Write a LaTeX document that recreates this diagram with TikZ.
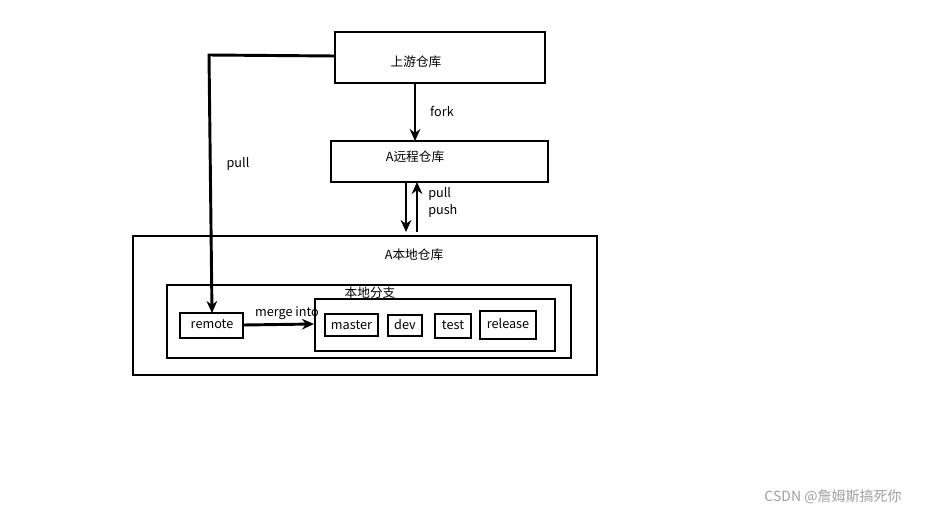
\documentclass[tikz,border=0pt]{standalone}
\usepackage{fontspec}
\setmainfont{Noto Sans CJK SC}
\usetikzlibrary{arrows.meta}
\begin{document}
\begin{tikzpicture}[x=0.75pt,y=-0.75pt,
  box/.style={draw,line width=1.4pt},
  lbl/.style={font=\fontsize{9.5}{10}\selectfont,inner sep=0pt},
  arr/.style={line width=2.2pt,-{Stealth[length=9pt,width=8pt]}}]
\useasboundingbox (0,0) rectangle (950,518);
\draw[box] (335,32) rectangle (545,83);
\node[lbl] (up) at (416,62) {上游仓库};
\draw[box] (331,141) rectangle (548,182);
\node[lbl] (ar) at (415,157) {A远程仓库};
\draw[box] (133,236) rectangle (597,375);
\node[lbl] (al) at (414,255) {A本地仓库};
\draw[box] (167,285) rectangle (571,358);
\node[lbl] (bd) at (370,293) {本地分支};
\draw[box] (315,299) rectangle (555,351);
\draw[box] (325,314) rectangle (378,336); \node[lbl] (m) at (351.5,325) {master};
\draw[box] (388,315) rectangle (422,336); \node[lbl] (d) at (405,325) {dev};
\draw[box] (435,314) rectangle (471,338); \node[lbl] (t) at (453,325) {test};
\draw[box] (480,311) rectangle (536,339); \node[lbl] (r) at (508,324) {release};
\draw[box] (180,313) rectangle (243,338); \node[lbl] (rm) at (212,324) {remote};
\coordinate (f1) at (415,83); \coordinate (f2) at (415,141);
\draw[arr] (f1) -- (f2);
\node[lbl] (fk) at (442,111) {fork};
\coordinate (d1) at (406,182); \coordinate (d2) at (406,232);
\coordinate (u1) at (417,232); \coordinate (u2) at (417,182);
\draw[arr] (d1) -- (d2);
\draw[arr] (u1) -- (u2);
\node[lbl,anchor=west] (pl) at (428,194) {pull};
\node[lbl,anchor=west] (ps) at (428,211) {push};
\coordinate (p0) at (335,56); \coordinate (p1) at (209,55); \coordinate (p2) at (212,313);
\draw[arr] (p0) -- (p1) -- (p2);
\node[lbl] (pl2) at (238,164) {pull};
\coordinate (m1) at (244,325); \coordinate (m2) at (314,324);
\draw[arr] (m1) -- (m2);
\node[lbl] (mi) at (287,313) {merge into};
\node[font=\fontsize{10.5}{12}\selectfont,inner sep=0pt,text=gray!75] (wm) at (833,497) {CSDN @詹姆斯搞死你};
\end{tikzpicture}
\end{document}
